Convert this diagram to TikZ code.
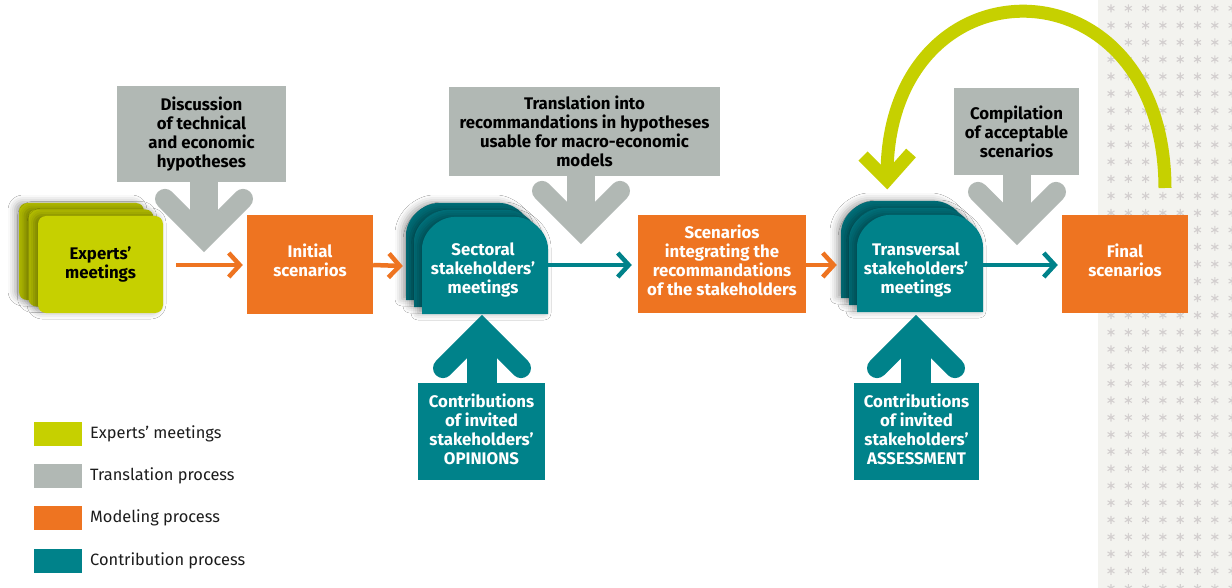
\documentclass[tikz,border=0pt]{standalone}
\usepackage{fontspec}
\setmainfont{Fira Sans}
\usetikzlibrary{arrows.meta,shadows.blur}
\definecolor{clime}{HTML}{C6D000}
\definecolor{climeb}{HTML}{B4BE00}
\definecolor{cgray}{HTML}{B1B8B4}
\definecolor{corange}{HTML}{EE7421}
\definecolor{cteal}{HTML}{00828A}
\definecolor{ctealb}{HTML}{00707A}
\definecolor{cbg}{HTML}{F3F3EF}
\definecolor{cstar}{HTML}{D3CFCF}
\definecolor{ctext}{HTML}{1C1C1C}
\tikzset{
  lbl/.style={font=\bfseries\fontsize{16.8}{19}\selectfont, align=center, inner sep=0pt},
  gbox/.style={lbl, fill=cgray, text=black},
  obox/.style={lbl, fill=corange, text=white, text depth=8pt},
  tbox/.style={lbl, fill=cteal, text=white, text depth=4pt},
  oarr/.style={draw=corange, line width=4.5pt, -{Straight Barb[length=11pt,width=24pt]}},
  tarr/.style={draw=cteal, line width=4.5pt, -{Straight Barb[length=11pt,width=24pt]}},
  cardshadow/.style={blur shadow={shadow xshift=-4pt, shadow yshift=1pt, shadow blur radius=7pt, shadow opacity=35}},
  legtxt/.style={font=\fontsize{16.4}{18}\selectfont, text=ctext, anchor=west, inner sep=0pt}
}
% stakeholder meeting shape: #1 = left, #2 = top, #3 = style
\newcommand{\stkshape}[3]{%
  \path[#3] (#1,#2+97) -- (#1,#2+32) .. controls (#1,#2+14.3) and (#1+17.7,#2) .. (#1+32,#2)
    -- (#1+94,#2) .. controls (#1+108.3,#2) and (#1+126,#2+14.3) .. (#1+126,#2+32)
    -- (#1+126,#2+97) -- cycle;}
% block arrow pointing down: #1 = centre x, #2 = tip y, #3 = stem top y
\newcommand{\chevdown}[4]{%
  \fill[#4] (#1-14,#3) rectangle (#1+14,#2-22);
  \draw[#4, line width=20pt, line cap=round, line join=miter] (#1-39,#2-53.1) -- (#1,#2-14.1) -- (#1+39,#2-53.1);}
% block arrow pointing up: #1 = centre x, #2 = tip y, #3 = stem bottom y
\newcommand{\chevup}[4]{%
  \fill[#4] (#1-15,#3) rectangle (#1+15,#2+22);
  \draw[#4, line width=20pt, line cap=round, line join=miter] (#1-39,#2+53.1) -- (#1,#2+14.1) -- (#1+39,#2+53.1);}
\begin{document}
\begin{tikzpicture}[x=1pt,y=-1pt]
\useasboundingbox (0,0) rectangle (1232,588);
\fill[white] (0,0) rectangle (1232,588);
% patterned strip
\fill[cbg] (1098,0) rectangle (1232,588);
\begin{scope}
  \clip (1098,0) rectangle (1232,588);
  \foreach \i in {0,...,8}{
    \foreach \j in {0,...,34}{
      \pgfmathsetmacro{\sx}{1093.7+17.3*\i}
      \pgfmathsetmacro{\sy}{8.3+17.05*\j}
      \draw[cstar, line width=1.1pt, shift={(\sx,\sy)}]
        (0,-4) -- (0,4) (-3.46,-2) -- (3.46,2) (-3.46,2) -- (3.46,-2);
    }
  }
\end{scope}

% ---- translation (grey) boxes
\node[gbox, minimum width=169pt, minimum height=96pt] (disc) at (201.5,134)
  {Discussion\\of technical\\and economic\\hypotheses};
\node[gbox, minimum width=271pt, minimum height=89pt] (transl) at (584.5,131.5)
  {Translation into\\recommandations in hypotheses\\usable for macro-economic\\models};
\node[gbox, minimum width=125pt, minimum height=87pt] (comp) at (1016.5,131.5)
  {Compilation\\of acceptable\\scenarios};

% ---- experts' meetings stack
\fill[climeb, rounded corners=8pt, cardshadow] (19,203) rectangle ++(125,97);
\fill[climeb, rounded corners=8pt, cardshadow] (28.5,209.5) rectangle ++(125,97);
\node[lbl, fill=clime, text=black, rounded corners=8pt, minimum width=125pt, minimum height=97pt, cardshadow]
  (experts) at (100.5,264.5) {Experts’\\meetings};

% ---- modelling boxes
\node[obox, minimum width=126pt, minimum height=99pt] (initial) at (310,264.5) {Initial\\scenarios};
\node[obox, minimum width=168pt, minimum height=98pt] (scen) at (722,264)
  {Scenarios\\integrating the\\recommandations\\of the stakeholders};
\node[obox, minimum width=126pt, minimum height=98pt] (final) at (1125,264) {Final\\scenarios};

% ---- sectoral stakeholders' meetings stack
\stkshape{406}{203}{fill=ctealb, cardshadow}
\stkshape{414}{210}{fill=ctealb, cardshadow}
\stkshape{422}{217}{fill=cteal, cardshadow}
\node[minimum width=126pt, minimum height=97pt, inner sep=0pt] (sect) at (485,265.5) {};
\node[lbl, text=white] (secttxt) at (483,270) {Sectoral\\stakeholders’\\meetings};

% ---- transversal stakeholders' meetings stack
\stkshape{841}{201}{fill=ctealb, cardshadow}
\stkshape{849}{208}{fill=ctealb, cardshadow}
\stkshape{857}{215}{fill=cteal, cardshadow}
\node[minimum width=126pt, minimum height=97pt, inner sep=0pt] (transv) at (920,263.5) {};
\node[lbl, text=white] (transvtxt) at (916,270) {Transversal\\stakeholders’\\meetings};

% ---- contribution boxes
\node[tbox, minimum width=127pt, minimum height=97pt] (contribA) at (481.5,431.5)
  {Contributions\\of invited\\stakeholders’\\OPINIONS};
\node[tbox, minimum width=125pt, minimum height=97pt] (contribB) at (916.5,431.5)
  {Contributions\\of invited\\stakeholders’\\ASSESSMENT};

% ---- block arrows
\chevdown{204}{252}{182}{cgray}
\chevdown{581}{244}{175}{cgray}
\chevdown{1017}{245}{174}{cgray}
\chevup{482}{315}{384}{cteal}
\chevup{916}{315}{384}{cteal}

% ---- flow arrows
\draw[oarr] ([xshift=13pt,yshift=-0.5pt]experts.east) -- ([xshift=-4pt,yshift=-0.5pt]initial.west);
\draw[oarr] ([yshift=-0.5pt]initial.east) -- ([xshift=-19pt,yshift=-0.5pt]sect.west);
\draw[tarr] ([yshift=0.5pt]sect.east) -- ([xshift=-6pt,yshift=-1pt]scen.west);
\draw[oarr] ([yshift=-1pt]scen.east) -- ([xshift=-20pt,yshift=-1.5pt]transv.west);
\draw[tarr] ([yshift=-1.5pt]transv.east) -- ([xshift=-4pt,yshift=-1pt]final.west);

% ---- feedback loop
\coordinate (loopstart) at (1165,188);
\coordinate (loopend) at (887,172);
\draw[clime, line width=13pt] (loopstart) .. controls (1164,-45) and (890,-45) .. (loopend);
\draw[clime, line width=13pt, line join=miter] (863,156) -- (887,180) -- (911,153);

% ---- legend
\fill[clime] (34,422) rectangle (82,446);
\fill[cgray] (34,464) rectangle (82,488);
\fill[corange] (34,506) rectangle (82,530);
\fill[cteal] (34,549) rectangle (82,573);
\node[legtxt] (legA) at (90,434) {Experts’ meetings};
\node[legtxt] (legB) at (90,476) {Translation process};
\node[legtxt] (legC) at (90,518) {Modeling process};
\node[legtxt] (legD) at (90,561) {Contribution process};
\end{tikzpicture}
\end{document}
